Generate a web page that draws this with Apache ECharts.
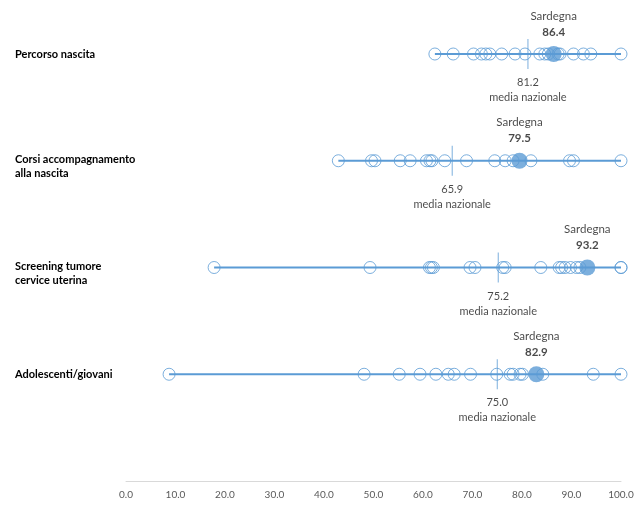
<!DOCTYPE html>
<html><head><meta charset="utf-8">
<script src="https://cdn.jsdelivr.net/npm/echarts@6/dist/echarts.min.js"></script>
<style>html,body{margin:0;padding:0;background:#fff}#c{width:643px;height:511px}</style>
</head><body><div id="c"></div>
<script>
const categories = ['Percorso nascita', 'Corsi accompagnamento\nalla nascita', 'Screening tumore\ncervice uterina', 'Adolescenti/giovani'];
const percorsoNascita = [62.4, 66.1, 70.2, 71.8, 72.7, 73.5, 75.9, 78.6, 80.6, 83.6, 84.6, 85.3, 87.3, 87.7, 90.4, 92.4, 93.9, 100];
const corsiAccompagnamento = [42.9, 49.6, 50.3, 55.4, 57.4, 60.7, 61.4, 61.8, 64.4, 68.8, 74.5, 76.6, 78.2, 81.8, 89.6, 90.4, 100];
const screeningCervice = [17.8, 49.3, 61.3, 61.7, 62.1, 69.5, 70.5, 76.1, 76.6, 83.8, 87.5, 88.0, 88.7, 89.8, 91.0, 91.7, 100, 100];
const adolescentiGiovani = [8.7, 48.1, 55.2, 59.4, 62.6, 65.1, 66.3, 69.6, 74.9, 77.6, 78.2, 79.6, 80.1, 84.2, 94.4, 100];
const sardegna = [86.4, 79.5, 93.2, 82.9];
const mediaNazionale = [81.2, 65.9, 75.2, 75.0];
const xTicks = [0, 10, 20, 30, 40, 50, 60, 70, 80, 90, 100];

const regioni = [percorsoNascita, corsiAccompagnamento, screeningCervice, adolescentiGiovani];
const blue = '#5b9bd5';
const txt = '#1a1a1a';
const font = 'Lato, "Open Sans", sans-serif';

const series = [];
regioni.forEach((vals, i) => {
  const all = vals.concat([sardegna[i]]);
  series.push({
    type: 'line', silent: true, symbol: 'none',
    lineStyle: { color: blue, width: 2 },
    data: [[Math.min(...all), i], [Math.max(...all), i]], z: 1
  });
});
series.push({
  type: 'scatter', symbol: 'circle', symbolSize: 12,
  itemStyle: { color: 'rgba(255,255,255,0)', borderColor: blue, borderWidth: 1 },
  data: regioni.flatMap((vals, i) => vals.map(v => [v, i])), z: 2
});
series.push({
  type: 'scatter', symbol: 'rect', symbolSize: [1, 30],
  itemStyle: { color: blue },
  label: { show: true, position: 'bottom', distance: 6, color: txt, fontFamily: font, fontSize: 11, lineHeight: 15,
    formatter: p => p.value[0].toFixed(1) + '\nmedia nazionale' },
  data: mediaNazionale.map((v, i) => [v, i]), z: 3
});
series.push({
  type: 'scatter', symbol: 'circle', symbolSize: 16,
  itemStyle: { color: blue },
  label: { show: true, position: 'top', distance: 6, color: txt, fontFamily: font, fontSize: 11.5, lineHeight: 16,
    formatter: p => 'Sardegna\n{b|' + p.value[0].toFixed(1) + '}',
    rich: { b: { fontWeight: 'bold', fontSize: 11.5, color: txt, fontFamily: font } } },
  data: sardegna.map((v, i) => [v, i]), z: 4
});

const chart = echarts.init(document.getElementById('c'));
chart.setOption({
  animation: false,
  grid: { left: 126, right: 22, top: 54, bottom: 30 },
  xAxis: {
    type: 'value', min: xTicks[0], max: xTicks[xTicks.length - 1], interval: 10,
    axisLine: { show: true, lineStyle: { color: '#d9d9d9' } },
    axisTick: { show: false }, splitLine: { show: false },
    axisLabel: { color: '#595959', fontFamily: font, fontSize: 10, margin: 9, formatter: v => v.toFixed(1) }
  },
  yAxis: {
    type: 'category', inverse: true, boundaryGap: false,
    data: categories.concat(['']),
    axisLine: { show: false }, axisTick: { show: false }, splitLine: { show: false },
    axisLabel: { align: 'left', margin: 111,
      formatter: v => v.indexOf('\n') >= 0 ? '{s|}\n' + v.split('\n').map(l => '{t|' + l + '}').join('\n') : '{t|' + v + '}',
      rich: {
        s: { lineHeight: 11, fontSize: 1 },
        t: { color: '#000', fontFamily: font, fontSize: 11, fontWeight: 'bold', lineHeight: 14 }
      } }
  },
  series
});
</script></body></html>
